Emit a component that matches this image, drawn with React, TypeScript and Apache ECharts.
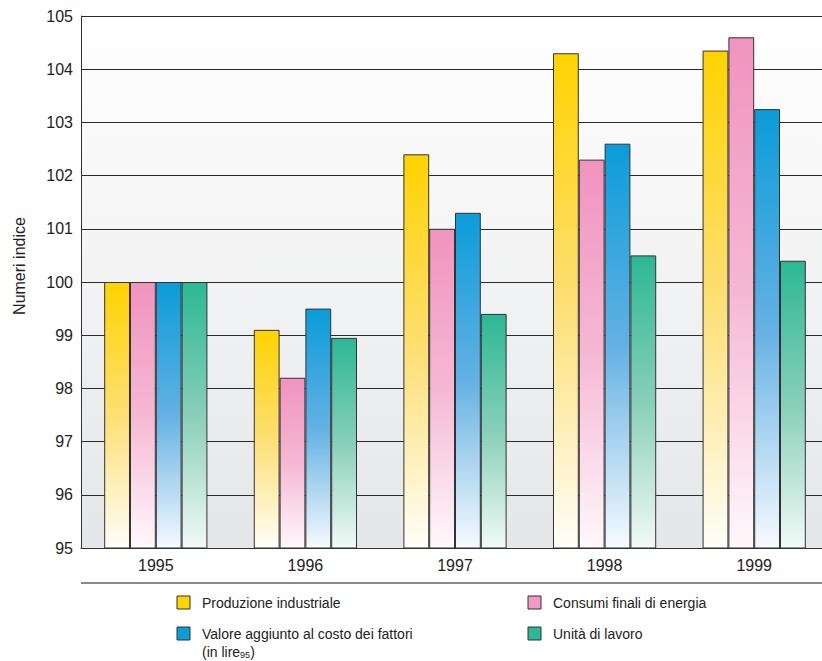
import React, { useEffect, useRef } from "react";
import * as echarts from "echarts";

// Index numbers, base 1995 = 100
const years = ["1995", "1996", "1997", "1998", "1999"];
const produzioneIndustriale = [100, 99.1, 102.4, 104.3, 104.35];
const consumiEnergia = [100, 98.2, 101.0, 102.3, 104.6];
const valoreAggiunto = [100, 99.5, 101.3, 102.6, 103.25];
const unitaLavoro = [100, 98.95, 99.4, 100.5, 100.4];

const yMin = 95;
const yMax = 105;
const yStep = 1;

const FONT = "'Liberation Sans', Arial, Helvetica, sans-serif";

type Palette = { solid: string; top: string; mid: string; bottom: string };

const yellow: Palette = { solid: "#FFD400", top: "#FFD300", mid: "#FDDF74", bottom: "#FFFEF8" };
const pink: Palette = { solid: "#F39AC3", top: "#F193BF", mid: "#F5B8D4", bottom: "#FFF8FB" };
const blue: Palette = { solid: "#0C9DD9", top: "#0A9CD9", mid: "#64B1E3", bottom: "#F6FAFE" };
const green: Palette = { solid: "#2CB894", top: "#2CB894", mid: "#88CFB8", bottom: "#F1FAF6" };

function barFill(p: Palette) {
  return new echarts.graphic.LinearGradient(0, 0, 0, 1, [
    { offset: 0, color: p.top },
    { offset: 0.5, color: p.mid },
    { offset: 1, color: p.bottom },
  ]);
}

function makeSeries(name: string, data: number[], p: Palette) {
  return {
    name,
    type: "bar",
    data,
    barGap: "0%",
    barCategoryGap: "31%",
    itemStyle: { color: barFill(p), borderColor: "#333", borderWidth: 1 },
  };
}

function legendItem(x: number, y: number, p: Palette, lines: string[]) {
  const children: any[] = [
    {
      type: "rect",
      shape: { x, y, width: 13, height: 13 },
      style: { fill: p.solid, stroke: "#333", lineWidth: 1 },
    },
  ];
  lines.forEach((t, i) => {
    children.push({
      type: "text",
      x: x + 25,
      y: y + 7 + i * 18,
      style: {
        text: t,
        font: `14px ${FONT}`,
        fill: "#222",
        verticalAlign: "middle",
        rich: { sub: { fontSize: 9, fontFamily: FONT, fill: "#222", padding: [6, 0, 0, 0] } },
      },
    });
  });
  return { type: "group", children };
}

export default function App() {
  const ref = useRef<HTMLDivElement>(null);

  useEffect(() => {
    if (!ref.current) return;
    const chart = echarts.init(ref.current, null, { renderer: "svg" });
    chart.setOption({
      animation: false,
      backgroundColor: "#ffffff",
      grid: {
        left: 81,
        top: 16,
        right: 0,
        bottom: 113,
        show: true,
        borderWidth: 0,
        backgroundColor: new echarts.graphic.LinearGradient(0, 0, 0, 1, [
          { offset: 0, color: "#ffffff" },
          { offset: 1, color: "#e5e6e8" },
        ]),
      },
      xAxis: {
        type: "category",
        data: years,
        axisLine: { show: true, lineStyle: { color: "#333", width: 1 } },
        axisTick: { show: false },
        axisLabel: { color: "#222", fontSize: 16, fontFamily: FONT, margin: 9 },
      },
      yAxis: {
        type: "value",
        min: yMin,
        max: yMax,
        interval: yStep,
        axisLine: { show: true, lineStyle: { color: "#333", width: 1 } },
        axisTick: { show: false },
        axisLabel: { color: "#222", fontSize: 16, fontFamily: FONT, margin: 8 },
        splitLine: { show: true, lineStyle: { color: "#2a2a2a", width: 1 } },
      },
      series: [
        makeSeries("Produzione industriale", produzioneIndustriale, yellow),
        makeSeries("Consumi finali di energia", consumiEnergia, pink),
        makeSeries("Valore aggiunto al costo dei fattori (in lire95)", valoreAggiunto, blue),
        makeSeries("Unità di lavoro", unitaLavoro, green),
      ],
      graphic: [
        {
          type: "text",
          x: 19,
          y: 266,
          rotation: Math.PI / 2,
          style: {
            text: "Numeri indice",
            font: `16px ${FONT}`,
            fill: "#222",
            align: "center",
            verticalAlign: "middle",
          },
        },
        {
          type: "line",
          shape: { x1: 81, y1: 583, x2: 829, y2: 583 },
          style: { stroke: "#8a8a8a", lineWidth: 2 },
        },
        legendItem(177, 596, yellow, ["Produzione industriale"]),
        legendItem(528, 596, pink, ["Consumi finali di energia"]),
        legendItem(177, 627, blue, ["Valore aggiunto al costo dei fattori", "(in lire{sub|95})"]),
        legendItem(528, 627, green, ["Unità di lavoro"]),
      ],
    });
    return () => chart.dispose();
  }, []);

  // The plot runs a little past the right edge of the visible frame.
  return (
    <div
      style={{ position: "fixed", left: 0, top: 0, width: 822, height: 661, overflow: "hidden" }}
    >
      <div ref={ref} style={{ width: 829, height: 661 }} />
    </div>
  );
}
